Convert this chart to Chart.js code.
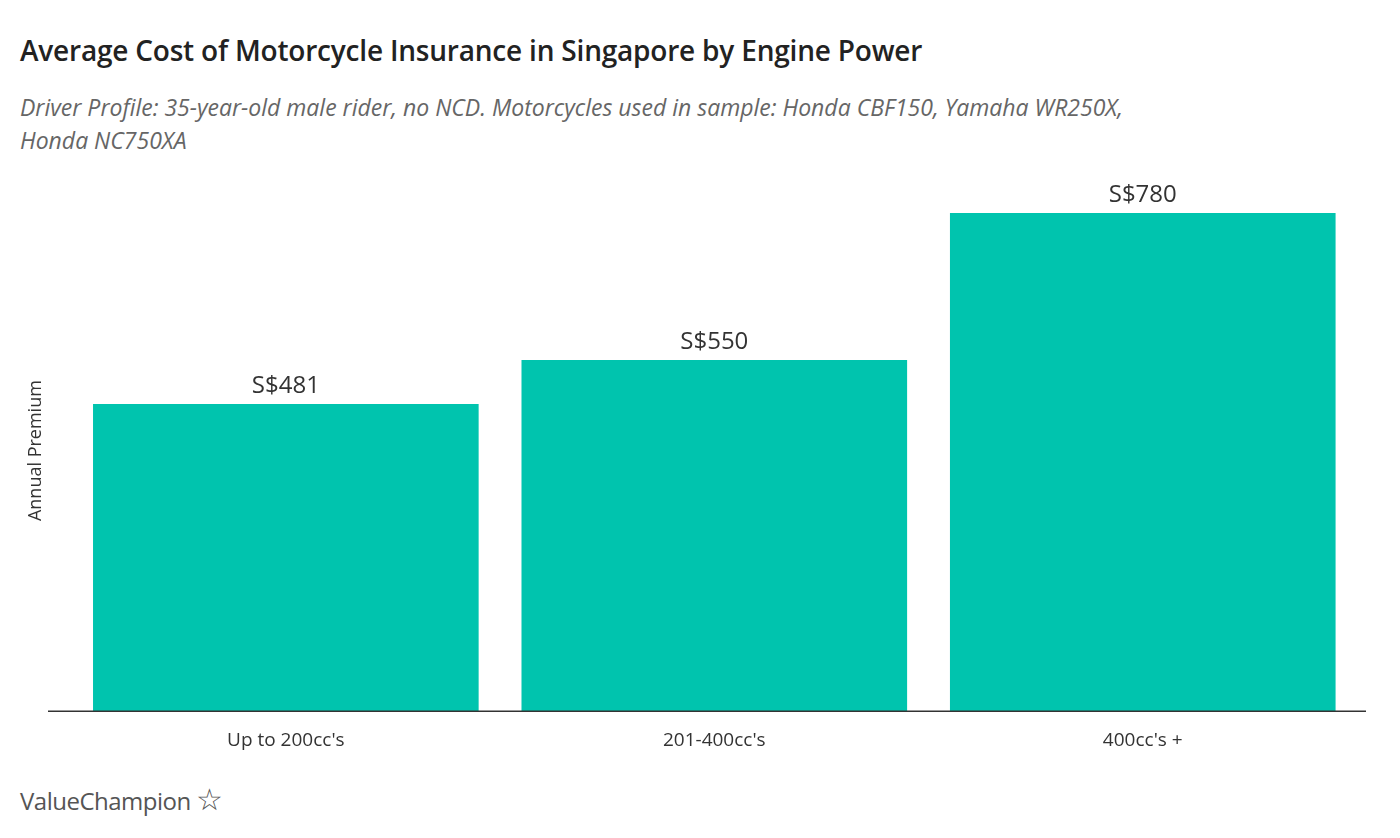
<!DOCTYPE html>
<html>
<head>
<meta charset="utf-8">
<script src="https://cdn.jsdelivr.net/npm/chart.js@4"></script>
<style>
  body { margin: 0; background: #fff; font-family: "Open Sans", sans-serif; }
  #title { position: absolute; left: 20px; top: 31px; font-size: 28px; font-weight: 600; color: #222; letter-spacing: -0.2px; }
  #sub { position: absolute; left: 20px; top: 91px; width: 1140px; font-size: 23px; font-style: italic; color: #666; line-height: 33px; }
  #wrap { position: absolute; left: 0; top: 170px; width: 1400px; height: 600px; }
  #logo { position: absolute; left: 20px; top: 778px; font-size: 24px; color: #555; letter-spacing: -0.5px; }
</style>
</head>
<body>
<div id="title">Average Cost of Motorcycle Insurance in Singapore by Engine Power</div>
<div id="sub">Driver Profile: 35-year-old male rider, no NCD. Motorcycles used in sample: Honda CBF150, Yamaha WR250X, Honda NC750XA</div>
<div id="wrap"><canvas id="chart"></canvas></div>
<div id="logo">ValueChampion <span style="font-size:30px">☆</span></div>
<script>
const categories = ["Up to 200cc's", "201-400cc's", "400cc's +"];
const premiums = [481, 550, 780];

const valueLabels = {
    id: 'valueLabels',
    afterDatasetsDraw(chart) {
        const ctx = chart.ctx;
        ctx.save();
        // baseline running a bit past the plot area, like the original
        const y = chart.scales.y.getPixelForValue(0);
        ctx.strokeStyle = '#333';
        ctx.lineWidth = 1.5;
        ctx.beginPath();
        ctx.moveTo(48, y);
        ctx.lineTo(1366, y);
        ctx.stroke();
        ctx.font = '24px "Open Sans"';
        ctx.fillStyle = '#333';
        ctx.textAlign = 'center';
        ctx.textBaseline = 'bottom';
        chart.getDatasetMeta(0).data.forEach((bar, i) => {
            ctx.fillText('S$' + premiums[i], bar.x, bar.y - 6);
        });
        ctx.restore();
    }
};

new Chart(document.getElementById('chart').getContext('2d'), {
    type: 'bar',
    data: {
        labels: categories,
        datasets: [{
            data: premiums,
            backgroundColor: '#00c4ae',
            barPercentage: 0.9,
            categoryPercentage: 1.0
        }]
    },
    options: {
        responsive: true,
        maintainAspectRatio: false,
        animation: false,
        layout: { padding: { top: 20, left: 0, right: 43 } },
        plugins: { legend: { display: false }, tooltip: { enabled: false } },
        scales: {
            x: {
                grid: { display: false, drawTicks: false },
                border: { display: false },
                ticks: { color: '#333', font: { size: 19, family: 'Open Sans' }, padding: 18 }
            },
            y: {
                min: 0,
                max: 816,
                grid: { display: false, drawTicks: false },
                border: { display: false },
                ticks: { display: false },
                title: { display: true, text: 'Annual Premium', color: '#333', font: { size: 18, family: 'Open Sans' }, padding: 25 }
            }
        }
    },
    plugins: [valueLabels]
});
</script>
</body>
</html>
